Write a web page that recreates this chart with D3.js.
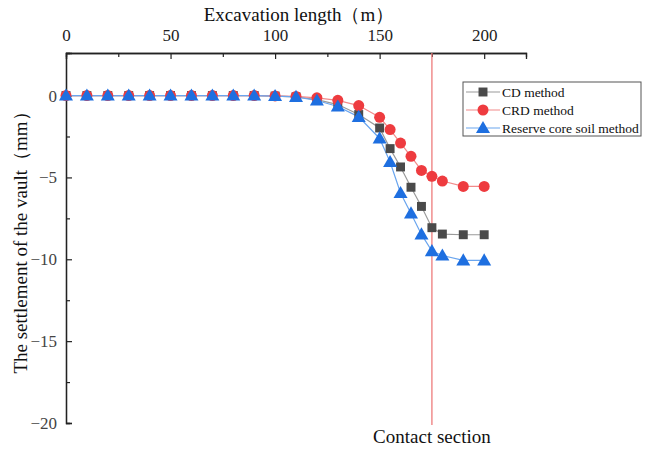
<!DOCTYPE html>
<html><head><meta charset="utf-8">
<script src="https://cdn.jsdelivr.net/npm/d3@7"></script>
<style>body{margin:0;background:#fff}svg{display:block}svg text{font-family:"Liberation Serif","Times New Roman",serif !important}</style>
</head><body>
<svg id="c" width="652" height="459"></svg>
<script>
const lengths = [0,10,20,30,40,50,60,70,80,90,100,110,120,130,140,150,155,160,165,170,175,180,190,200];
const cdMethod = [0,0,0,0,0,0,0,0,0,0,-0.03,-0.08,-0.25,-0.55,-1.16,-1.98,-3.24,-4.36,-5.6,-6.77,-8.07,-8.46,-8.5,-8.5];
const crdMethod = [0,0,0,0,0,0,0,0,0,0,-0.02,-0.05,-0.14,-0.29,-0.61,-1.33,-2.08,-2.9,-3.71,-4.57,-4.93,-5.22,-5.55,-5.55];
const coreSoilMethod = [0,0,0,0,0,0,0,0,0,0,-0.03,-0.08,-0.3,-0.67,-1.3,-2.62,-4.06,-5.95,-7.2,-8.48,-9.5,-9.77,-10.07,-10.07];
const xTicks = [0,50,100,150,200];
const yTicks = [0,-5,-10,-15,-20];
const contactSection = 175;

const svg = d3.select("#c");
const x = d3.scaleLinear().domain([0,220]).range([66,526]);
const y = d3.scaleLinear().domain([-20,2.6]).range([423,53]);

// axes
const topAxis = svg.append("g").attr("transform",`translate(0,${y(2.6)})`);
topAxis.call(d3.axisTop(x).tickValues(xTicks).tickSize(-6).tickPadding(12).tickFormat(d3.format("d")));
topAxis.append("g").call(d3.axisTop(x).tickValues([25,75,125,175]).tickSize(-4).tickFormat(""));
const leftAxis = svg.append("g").attr("transform",`translate(${x(0)},0)`);
leftAxis.call(d3.axisLeft(y).tickValues(yTicks).tickSize(-6).tickPadding(9).tickFormat(d=>d<0?"\u2212"+(-d):d));
leftAxis.append("g").call(d3.axisLeft(y).tickValues([-2.5,-7.5,-12.5,-17.5]).tickSize(-4).tickFormat(""));
svg.selectAll(".domain").attr("stroke","#222").attr("stroke-width",1.3);
svg.selectAll(".tick line").attr("stroke","#222").attr("stroke-width",1.2);
svg.selectAll(".tick text").attr("font-size",17).attr("fill","#222");
leftAxis.selectAll(".tick text").attr("fill","#444");

svg.append("text").attr("x",299).attr("y",21).attr("text-anchor","middle").attr("font-size",19).attr("fill","#111").text("Excavation length（m）");
svg.append("text").attr("transform","translate(27,238) rotate(-90)").attr("text-anchor","middle").attr("font-size",19).attr("fill","#111").text("The settlement of the vault（mm）");

// contact section line
svg.append("line").attr("x1",x(contactSection)).attr("x2",x(contactSection)).attr("y1",y(2.6)).attr("y2",425).attr("stroke","#ee7b7b").attr("stroke-width",1.3);
svg.append("text").attr("x",x(contactSection)).attr("y",443).attr("text-anchor","middle").attr("font-size",19).attr("fill","#111").text("Contact section");

const series = [
 {name:"CD method", vals:cdMethod, line:"#9a9a9a", fill:"#4a4a4a", sym:d3.symbolSquare, size:80},
 {name:"CRD method", vals:crdMethod, line:"#f28a8a", fill:"#ee3b3f", sym:d3.symbolCircle, size:95},
 {name:"Reserve core soil method", vals:coreSoilMethod, line:"#6aa5ee", fill:"#1e6fe0", sym:d3.symbolTriangle, size:85}
];
const line = d3.line().x((d,i)=>x(lengths[i])).y(d=>y(d));
series.forEach(s=>{
  svg.append("path").datum(s.vals).attr("d",line).attr("fill","none").attr("stroke",s.line).attr("stroke-width",1.2);
});
series.forEach(s=>{
  svg.append("g").selectAll("path").data(s.vals).join("path")
   .attr("transform",(d,i)=>`translate(${x(lengths[i])},${y(d)+(s.sym===d3.symbolTriangle?1:0)})`)
   .attr("d",d3.symbol().type(s.sym).size(s.size)).attr("fill",s.fill);
});

// legend
const lg = svg.append("g");
lg.append("rect").attr("x",463).attr("y",82).attr("width",178).attr("height",54).attr("fill","#fff").attr("stroke","#555").attr("stroke-width",1);
series.forEach((s,i)=>{
  const yy = 92+i*18;
  lg.append("line").attr("x1",466).attr("x2",500).attr("y1",yy).attr("y2",yy).attr("stroke",s.line).attr("stroke-width",1.2);
  lg.append("path").attr("transform",`translate(483,${yy+(s.sym===d3.symbolTriangle?1:0)})`).attr("d",d3.symbol().type(s.sym).size(s.size)).attr("fill",s.fill);
  lg.append("text").attr("x",502).attr("y",yy+4.5).attr("font-size",13.5).attr("fill","#111").text(s.name);
});
</script>
</body></html>
